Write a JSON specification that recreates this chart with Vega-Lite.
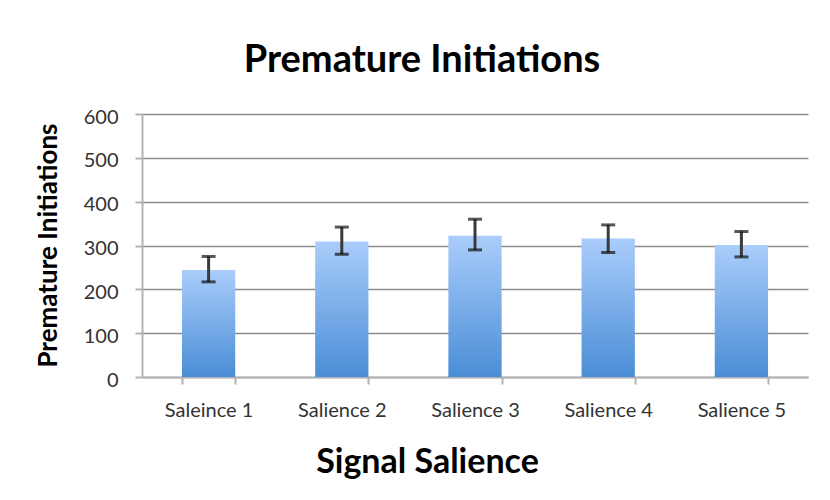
{
  "$schema": "https://vega.github.io/schema/vega-lite/v6.json",
  "width": 666,
  "height": 263,
  "autosize": {"type": "none"},
  "padding": {"left": 142, "top": 114, "right": 22, "bottom": 123},
  "background": "white",
  "title": {
    "text": "Premature Initiations",
    "font": "Lato",
    "fontSize": 38,
    "fontWeight": "bold",
    "color": "#000000",
    "anchor": "middle",
    "frame": "group",
    "baseline": "alphabetic",
    "offset": -3,
    "dx": -53
  },
  "data": {
    "values": [
      {"condition": "Saleince 1", "mean": 244, "lower": 217, "upper": 275},
      {"condition": "Salience 2", "mean": 309, "lower": 280, "upper": 342},
      {"condition": "Salience 3", "mean": 322, "lower": 290, "upper": 360},
      {"condition": "Salience 4", "mean": 316, "lower": 284, "upper": 347},
      {"condition": "Salience 5", "mean": 301, "lower": 274, "upper": 332}
    ]
  },
  "encoding": {
    "x": {
      "field": "condition",
      "type": "nominal",
      "sort": null,
      "scale": {"paddingInner": 0.6, "paddingOuter": 0.3},
      "axis": {
        "title": "Signal Salience",
        "titleFont": "Lato",
        "titleFontSize": 34,
        "titleFontWeight": "bold",
        "titleColor": "#000000",
        "titleX": 285,
        "titleY": 95,
        "titleAlign": "center",
        "titleBaseline": "alphabetic",
        "labelFont": "Lato",
        "labelFontSize": 20,
        "labelColor": "#333333",
        "labelAngle": 0,
        "labelPadding": 16,
        "labelBaseline": "top",
        "tickBand": "extent",
        "tickSize": 7,
        "tickColor": "#b3b3b3",
        "tickWidth": 2,
        "domainColor": "#b3b3b3",
        "domainWidth": 2,
        "grid": false
      }
    }
  },
  "layer": [
    {
      "mark": {
        "type": "bar",
        "color": {
          "gradient": "linear",
          "x1": 0, "y1": 0, "x2": 0, "y2": 1,
          "stops": [
            {"offset": 0, "color": "#aacdfb"},
            {"offset": 1, "color": "#4a8dd6"}
          ]
        }
      },
      "encoding": {
        "y": {
          "field": "mean",
          "type": "quantitative",
          "scale": {"domain": [0, 600]},
          "axis": {
            "title": "Premature Initiations",
            "titleFont": "Lato",
            "titleFontSize": 26,
            "titleFontWeight": "bold",
            "titleColor": "#000000",
            "titleAngle": -90,
            "titleX": -94,
            "titleY": 131,
            "titleAlign": "center",
            "titleBaseline": "middle",
            "values": [0, 100, 200, 300, 400, 500, 600],
            "labelFont": "Lato",
            "labelFontSize": 20,
            "labelColor": "#333333",
            "labelPadding": 17,
            "labelBaseline": "middle",
            "labelOffset": 3,
            "tickSize": 7,
            "tickColor": "#b3b3b3",
            "tickWidth": 2,
            "domainColor": "#b3b3b3",
            "domainWidth": 2,
            "grid": true,
            "gridColor": "#8c8c8c",
            "gridWidth": 1.5
          }
        }
      }
    },
    {
      "mark": {"type": "rule", "color": "#3a3a3a", "strokeWidth": 3},
      "encoding": {
        "y": {"field": "lower", "type": "quantitative"},
        "y2": {"field": "upper"}
      }
    },
    {
      "mark": {"type": "tick", "color": "#111111", "size": 14, "thickness": 3, "orient": "horizontal"},
      "encoding": {
        "y": {"field": "lower", "type": "quantitative"}
      }
    },
    {
      "mark": {"type": "tick", "color": "#111111", "size": 14, "thickness": 3, "orient": "horizontal"},
      "encoding": {
        "y": {"field": "upper", "type": "quantitative"}
      }
    }
  ],
  "config": {
    "view": {"stroke": null}
  }
}
